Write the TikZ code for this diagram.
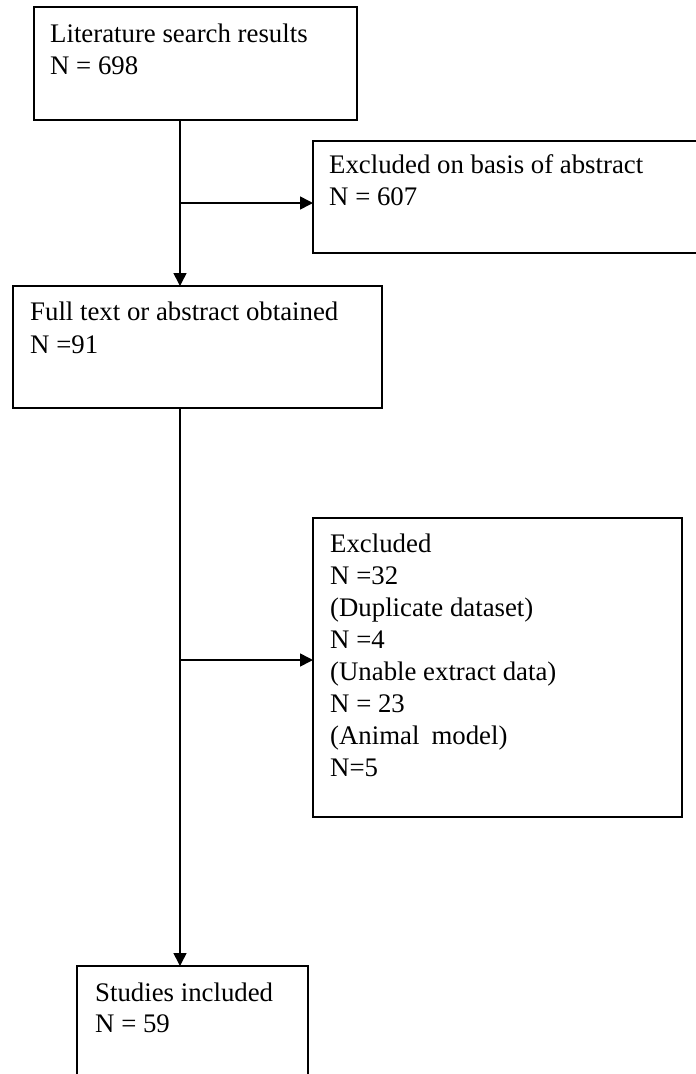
\documentclass[tikz,border=0pt]{standalone}
\usepackage{fontspec}
\setmainfont{Liberation Serif}
\usetikzlibrary{arrows.meta}
\begin{document}
\begin{tikzpicture}[x=1pt,y=-1pt,
  box/.style={draw, line width=1.6pt, inner sep=0pt, outer sep=0pt, anchor=north west},
  txt/.style={anchor=base west, inner sep=0pt, font=\fontsize{26.8}{32}\selectfont},
  flow/.style={line width=1.6pt},
  arr/.style={flow, -{Triangle[length=13pt,width=13pt]}}]
\useasboundingbox (0,0) rectangle (696,1074);
% boxes
\node[box, minimum width=323pt, minimum height=113pt] (b1) at (34,7) {};
\node[box, minimum width=400pt, minimum height=112pt] (b2) at (313,141) {};
\node[box, minimum width=369pt, minimum height=122pt] (b3) at (13,286) {};
\node[box, minimum width=369pt, minimum height=299pt] (b4) at (313,518) {};
\node[box, minimum width=231pt, minimum height=150pt] (b5) at (77,966) {};
% texts
\node[txt] (t1a) at (50,42) {Literature search results};
\node[txt] (t1b) at (50,74) {N = 698};
\node[txt] (t2a) at (329,173) {Excluded on basis of abstract};
\node[txt] (t2b) at (329,205) {N = 607};
\node[txt] (t3a) at (30,320) {Full text or abstract obtained};
\node[txt] (t3b) at (30,353) {N =91};
\node[txt] (t4a) at (330,552) {Excluded};
\node[txt] (t4b) at (330,584) {N =32};
\node[txt] (t4c) at (330,616) {(Duplicate dataset)};
\node[txt] (t4d) at (330,648) {N =4};
\node[txt] (t4e) at (330,680) {(Unable extract data)};
\node[txt] (t4f) at (330,712) {N = 23};
\node[txt] (t4g) at (330,744) {(Animal\hspace{0.45em}model)};
\node[txt] (t4h) at (330,776) {N=5};
\node[txt] (t5a) at (95,1001) {Studies included};
\node[txt] (t5b) at (95,1032) {N = 59};
% connectors
\coordinate (j1) at (180,203);
\coordinate (j2) at (180,660);
\draw[arr] (j1 |- b1.south) -- (j1 |- b3.north);
\draw[arr] (j1) -- (j1 -| b2.west);
\draw[arr] (j2 |- b3.south) -- (j2 |- b5.north);
\draw[arr] (j2) -- (j2 -| b4.west);
\end{tikzpicture}
\end{document}
